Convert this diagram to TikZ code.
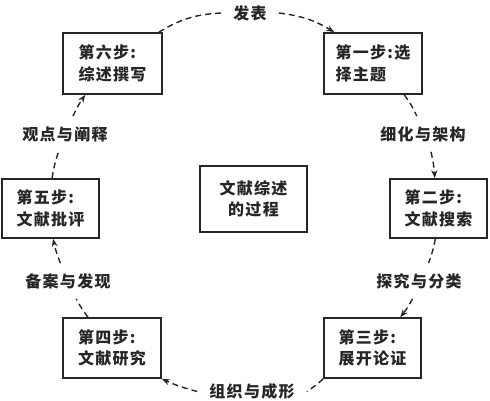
\documentclass[tikz,border=0pt]{standalone}
\usepackage{fontspec}
\newfontfamily\cjk{Noto Sans CJK SC}[LetterSpace=8]
\usetikzlibrary{arrows.meta}
\begin{document}
\begin{tikzpicture}[x=1pt,y=1pt,
  every node/.style={font=\cjk\bfseries\fontsize{16}{21.5}\selectfont, text=black!85},
  stepbox/.style={draw=black!85, line width=1.6pt, minimum height=60pt, align=left, inner sep=0pt},
  centerbox/.style={draw=black!85, line width=1.6pt, minimum width=107pt, minimum height=66pt, align=center, inner sep=0pt},
  vlabel/.style={inner xsep=2pt, inner ysep=10pt},
  hlabel/.style={inner xsep=12pt, inner ysep=2pt},
  conn/.style={draw=black!85, line width=1.4pt, dash pattern=on 6pt off 4pt},
  arr/.style={conn, -{Stealth[length=8pt,width=6pt]}}
]
\useasboundingbox[fill=white] (0,0) rectangle (490,401);
% boxes
\node[stepbox, minimum width=99pt, minimum height=61pt] (s6) at (112.5,337.5) {第六步:\\综述撰写};
\node[stepbox, minimum width=98pt, minimum height=61pt] (s1) at (373,337.5) {第一步:选\\择主题};
\node[stepbox, minimum width=97pt, minimum height=59pt] (s2) at (438.5,192.5) {第二步:\\文献搜索};
\node[stepbox, minimum width=97pt, minimum height=59pt] (s5) at (50.5,192.5) {第五步:\\文献批评};
\node[stepbox, minimum width=98pt] (s4) at (112,53) {第四步:\\文献研究};
\node[stepbox, minimum width=97pt] (s3) at (372.5,53) {第三步:\\展开论证};
\node[centerbox] (c) at (253.5,202) {文献综述\\的过程};
% labels
\node[hlabel] (fb) at (250,388) {发表};
\node[vlabel] (xh) at (423,267) {细化与架构};
\node[vlabel] (tj) at (419,120) {探究与分类};
\node[hlabel] (zz) at (252,9.5) {组织与成形};
\node[vlabel] (ba) at (68,120) {备案与发现};
\node[vlabel] (gd) at (65,267) {观点与阐释};
% connectors
\draw[conn] ([xshift=-4pt]s6.north east) to[bend left=14] (fb.west);
\draw[arr] (fb.east) to[bend left=12] (s1.141);
\draw[conn] (s1.-45) to[bend left=5] (xh.109);
\draw[arr] (xh.-66) to[bend left=5] (s2.97);
\draw[conn] (s2.-96) to[bend left=5] (tj.62);
\draw[arr] (tj.-110) to[bend left=5] (s3.48);
\draw[conn] (s3.south west) to[bend left=5] (zz.east);
\draw[arr] (zz.west) to[bend left=5] (s4.south east);
\draw[conn] (s4.128) to[bend left=5] (ba.-65);
\draw[arr] (ba.113) to[bend left=5] (s5.-85);
\draw[conn] (s5.87) to[bend left=5] (gd.-110);
\draw[arr] (gd.66) to[bend left=5] (s6.-131);
\end{tikzpicture}
\end{document}
